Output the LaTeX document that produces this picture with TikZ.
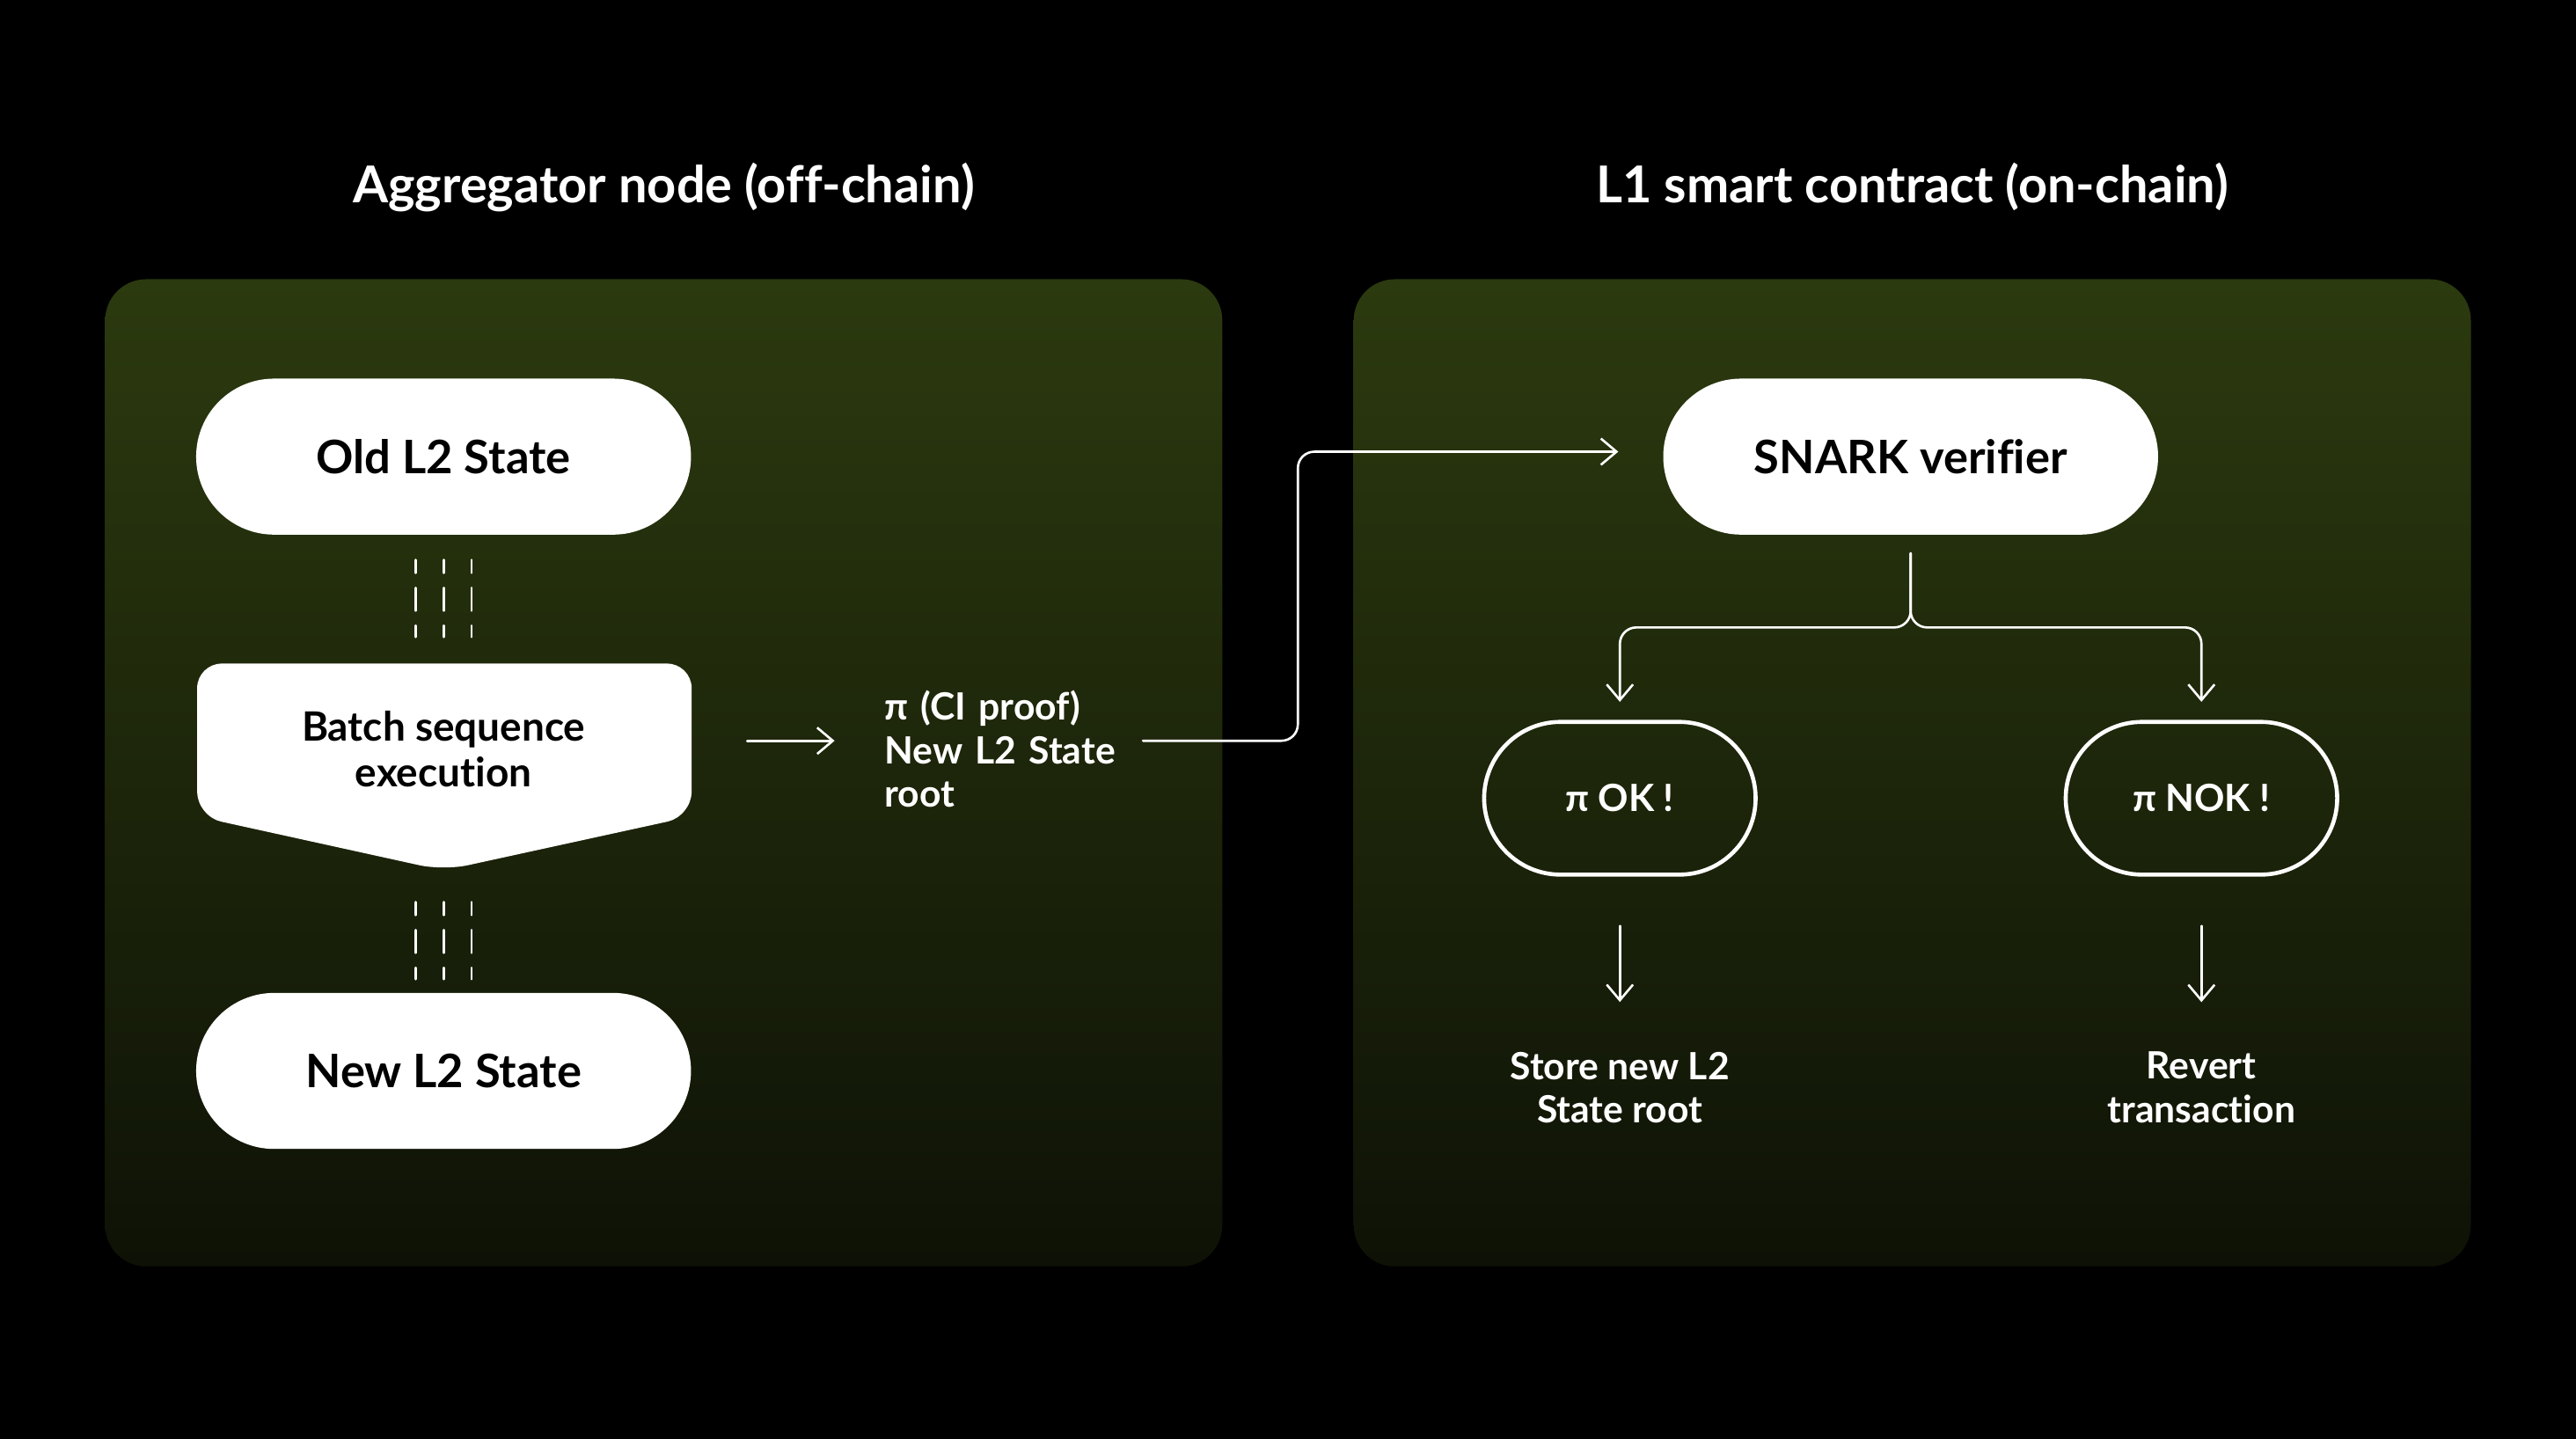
\documentclass[tikz,border=0pt]{standalone}
\usepackage{fontspec}
\setmainfont{Lato}[Ligatures=NoCommon]
\usetikzlibrary{arrows.meta,shapes.misc,positioning}
\definecolor{panelTop}{RGB}{44,58,15}
\definecolor{panelBot}{RGB}{14,18,6}
\begin{document}
\begin{tikzpicture}[x=0.02cm, y=-0.02cm, line cap=round, line join=round,
	pill/.style={rounded rectangle, fill=white, text=black, minimum width=6.26cm, minimum height=1.9cm, font=\fontsize{16}{19}\selectfont\bfseries},
	ring/.style={rounded rectangle, draw=white, line width=1.4pt, text=white, minimum width=3.54cm, minimum height=1.86cm, font=\fontsize{13}{16}\selectfont\bfseries},
	note/.style={text=white, inner sep=0pt, font=\fontsize{13}{15}\selectfont\bfseries},
	heading/.style={text=white, font=\fontsize{17.6}{20}\selectfont\bfseries},
	arr/.style={draw=white, line width=0.8pt, -{Straight Barb[length=0.19cm,width=0.32cm]}},
	dashline/.style={draw=white, line width=0.8pt, dash pattern=on 0.28cm off 0.18cm, dash phase=0.12cm}]
			\fill[black] (0,0) rectangle (1568,876);
			\shade[top color=panelTop, bottom color=panelBot, rounded corners=0.5cm] (64,170) rectangle (744,771);
			\shade[top color=panelTop, bottom color=panelBot, rounded corners=0.5cm] (824,170) rectangle (1504,771);
			\node[heading] (lefttitle) at (404,114) {Aggregator node (off-chain)};
			\node[heading] (righttitle) at (1164,114) {L1 smart contract (on-chain)};
			\node[pill] (old) at (270,278) {Old L2 State};
			\fill[white, rounded corners=0.3cm] (120,450) -- (120,404) -- (421,404) -- (421,497) -- (270,530) -- (120,497) -- cycle;
			\node[align=center, text=black, minimum width=6.02cm, font=\fontsize{14}{16}\selectfont\bfseries] (batch) at (270,456) {Batch sequence\\execution};
			\node[pill] (new) at (270,652) {New L2 State};
			\foreach \dx in {-17,0,17} {
				\draw[dashline] ([xshift=\dx*0.02cm]old.south) ++(0,15) -- ++(0,47);
				\draw[dashline] ([xshift=\dx*0.02cm]new.north) ++(0,-55) -- ++(0,47);
			}
			\node[note, anchor=west, align=left, text width=3cm] (proof) at (538,456) {π (CI proof)\\New L2 State\\root};
			\draw[arr] ([xshift=0.68cm]batch.east |- 0,451) -- ([xshift=-0.6cm]proof.west |- 0,451);
			\node[pill] (snark) at (1163,278) {SNARK verifier};
			\draw[arr, rounded corners=0.2cm] ([xshift=0.14cm]proof.east |- 0,451) -- (790,451) |- ([xshift=-0.54cm]snark.west |- 0,275);
			\node[ring] (ok) at (986,486) {π OK !};
			\node[ring] (nok) at (1340,486) {π NOK !};
			\draw[arr, rounded corners=0.2cm, shorten <=0.22cm, shorten >=0.22cm] (snark.south) -- (snark.south |- 0,382) -| (ok.north);
			\draw[arr, rounded corners=0.2cm, shorten <=0.22cm, shorten >=0.22cm] (snark.south) -- (snark.south |- 0,382) -| (nok.north);
			\node[note, align=center] (store) at (986,662) {Store new L2\\State root};
			\node[note, align=center] (revert) at (1340,662) {Revert\\transaction};
			\draw[arr, shorten <=0.6cm, shorten >=0.6cm] (ok.south) -- (store.north);
			\draw[arr, shorten <=0.6cm, shorten >=0.6cm] (nok.south) -- (revert.north);
		\end{tikzpicture}
\end{document}
